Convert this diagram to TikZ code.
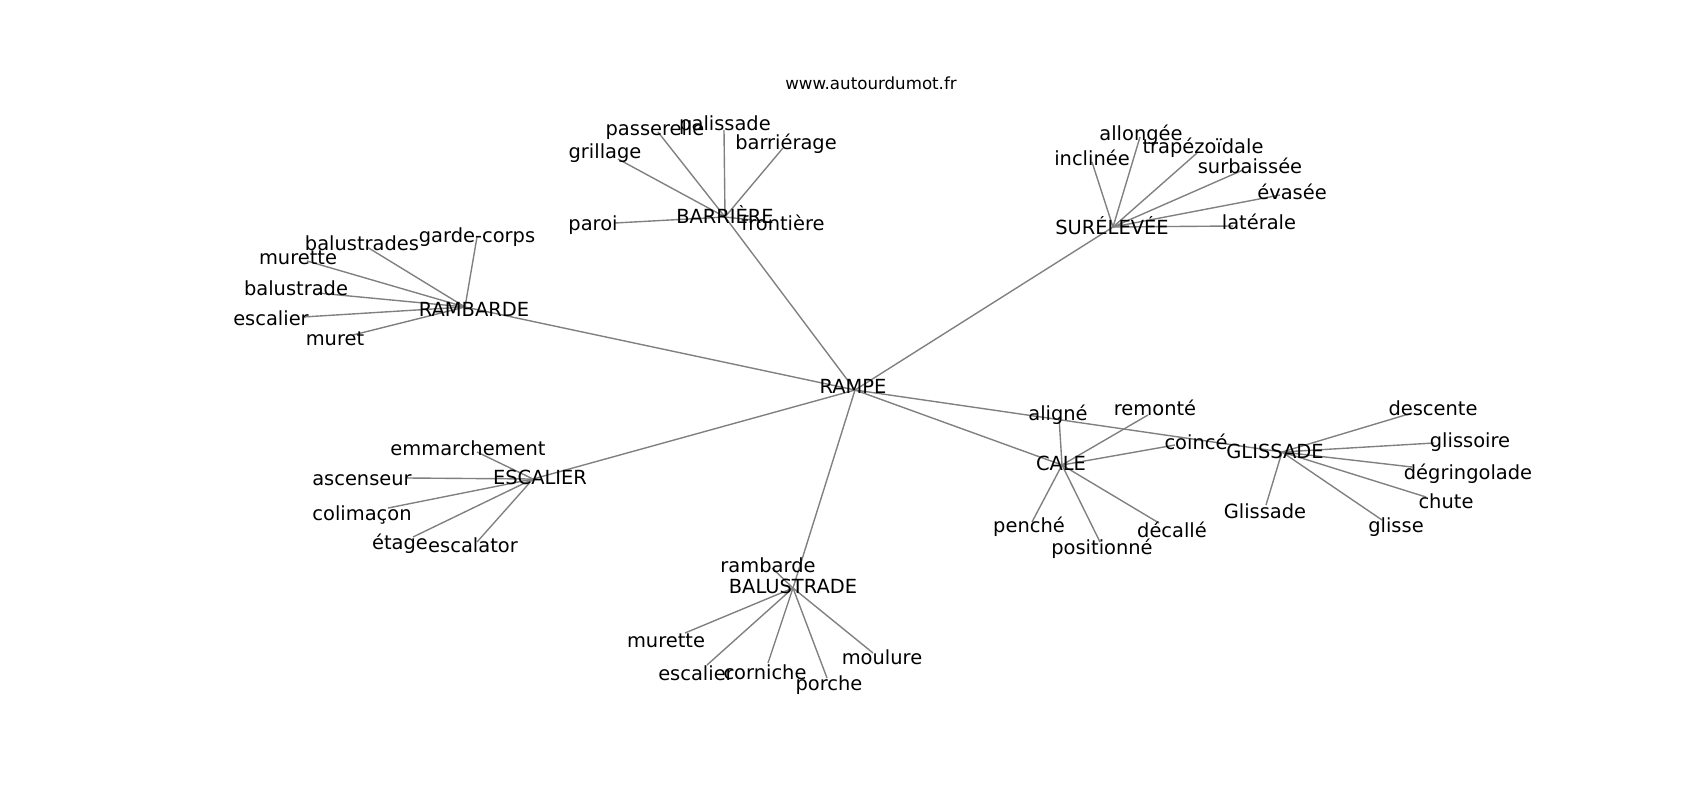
\documentclass[tikz,border=0pt]{standalone}
\usepackage{fontspec}
\setmainfont{DejaVu Sans}
\usepackage{tikz}

\begin{document}
\begin{tikzpicture}[
  x=0.72pt, y=-0.72pt,
  link/.style={draw=gray, line width=1pt},
  word/.style={inner sep=0pt, text height=0.6em, text depth=0pt, yshift=-2.4pt, font=\fontsize{14}{16}\selectfont},
  site/.style={inner sep=0pt, font=\fontsize{12}{14}\selectfont}
  ]
  \useasboundingbox (0,0) rectangle (1700,800);

  % hubs
  \coordinate (rampe) at (855,390);
  \coordinate (barriere) at (725,217);
  \coordinate (surelevee) at (1113,227);
  \coordinate (rambarde) at (465,307);
  \coordinate (escalier) at (533,479);
  \coordinate (balustrade) at (793,588);
  \coordinate (cale) at (1062,465);
  \coordinate (glissade) at (1282,452);

  \foreach \h in {barriere,surelevee,rambarde,escalier,balustrade,cale,glissade}
    \draw[link] (rampe) -- (\h);

  % leaves: name / hub / x / y / label x / label y / text
  \foreach \n/\h/\ex/\ey/\lx/\ly/\t in {
      passerelle/barriere/658/132/655/128/passerelle,
      palissade/barriere/724/130/725/123/palissade,
      barrierage/barriere/783/148/786/142/barriérage,
      grillage/barriere/618/159/605/151/grillage,
      paroi/barriere/615/223/593/223/paroi,
      frontiere/barriere/770/222/783/223/frontière,
      allongee/surelevee/1140/137/1141/133/allongée,
      inclinee/surelevee/1092/162/1092/158/inclinée,
      trapezoidale/surelevee/1197/153/1203/146/trapézoïdale,
      surbaissee/surelevee/1243/170/1250/166/surbaissée,
      evasee/surelevee/1280/195/1292/192/évasée,
      laterale/surelevee/1233/226/1259/222/latérale,
      balustrades/rambarde/367/247/362/243/balustrades,
      gardecorps/rambarde/477/237/477/235/garde-corps,
      murette/rambarde/307/261/298/257/murette,
      balustrade-r/rambarde/318/293/296/288/balustrade,
      escalier-r/rambarde/303/317/271/318/escalier,
      muret/rambarde/353/335/335/338/muret,
      emmarchement/escalier/477/452/468/448/emmarchement,
      ascenseur/escalier/407/478/362/478/ascenseur,
      colimacon/escalier/388/508/362/513/colimaçon,
      etage/escalier/413/537/400/542/étage,
      escalator/escalier/477/542/473/545/escalator,
      rambarde-b/balustrade/772/568/768/565/rambarde,
      murette-b/balustrade/685/633/666/640/murette,
      escalier-b/balustrade/707/665/696/673/escalier,
      corniche/balustrade/768/663/765/672/corniche,
      porche/balustrade/827/678/829/683/porche,
      moulure/balustrade/873/653/882/657/moulure,
      aligne/cale/1059/417/1058/413/aligné,
      remonte/cale/1148/415/1155/408/remonté,
      coince/cale/1175/445/1196/442/coincé,
      penche/cale/1032/522/1029/525/penché,
      positionne/cale/1100/542/1102/547/positionné,
      decalle/cale/1159/523/1172/530/décallé,
      descente/glissade/1412/413/1433/408/descente,
      glissoire/glissade/1434/443/1470/440/glissoire,
      degringolade/glissade/1412/467/1468/472/dégringolade,
      chute/glissade/1426/497/1446/501/chute,
      glisse/glissade/1382/520/1396/525/glisse,
      glissade-g/glissade/1266/505/1265/511/Glissade}
  {
    \coordinate (\n) at (\ex,\ey);
    \draw[link] (\h) -- (\n);
    \node[word] (\n-t) at (\lx,\ly) {\t};
  }

  % hub labels
  \node[word] (rampe-t) at (853,386) {RAMPE};
  \node[word] (barriere-t) at (725,216) {BARRIÈRE};
  \node[word] (surelevee-t) at (1112,227) {SURÉLEVÉE};
  \node[word] (rambarde-t) at (474,309) {RAMBARDE};
  \node[word] (escalier-t) at (540,477) {ESCALIER};
  \node[word] (balustrade-t) at (793,586) {BALUSTRADE};
  \node[word] (cale-t) at (1061,463) {CALE};
  \node[word] (glissade-t) at (1275,451) {GLISSADE};

  \node[site] (site) at (871,83) {www.autourdumot.fr};
\end{tikzpicture}
\end{document}
